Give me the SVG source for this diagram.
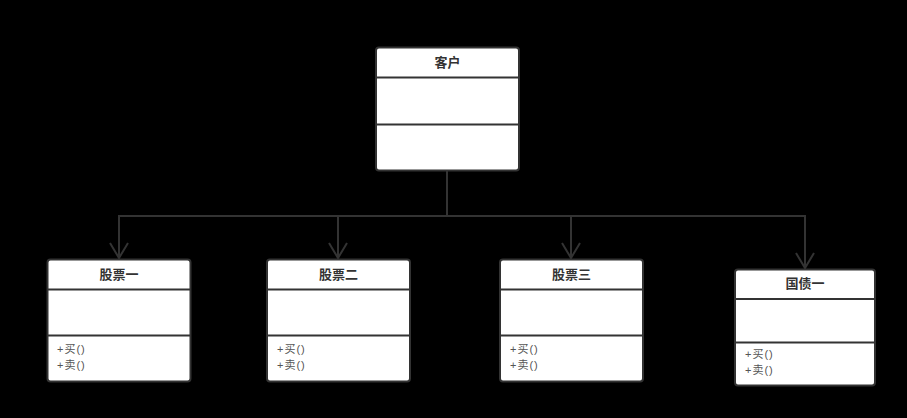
<svg xmlns="http://www.w3.org/2000/svg" width="907" height="418" viewBox="0 0 907 418">
<style>
.box{fill:#fff;stroke:#333;stroke-width:2}
.div{stroke:#333;stroke-width:2}
.title{font-family:"Liberation Sans","Noto Sans CJK SC",sans-serif;font-size:13px;font-weight:bold;fill:#333;text-anchor:middle}
.m{font-family:"Liberation Sans","Noto Sans CJK SC",sans-serif;font-size:11px;fill:#555;letter-spacing:1px}
.edge{fill:none;stroke:#333;stroke-width:2}
</style>
<defs>
<marker id="open" viewBox="0 0 20 20" refX="17" refY="10" markerWidth="20" markerHeight="20" markerUnits="userSpaceOnUse" orient="auto">
<path d="M2,1 L17,10 L2,19" fill="none" stroke="#333" stroke-width="2"/>
</marker>
</defs>
<rect width="907" height="418" fill="#000"/>
<g id="connectors">
<path class="edge" d="M447,171 V216 H119 V258" marker-end="url(#open)"/>
<path class="edge" d="M338,216 V258" marker-end="url(#open)"/>
<path class="edge" d="M447,216 H571 V258" marker-end="url(#open)"/>
<path class="edge" d="M571,216 H805 V268" marker-end="url(#open)"/>
</g>
<g id="client">
<rect class="box" x="376" y="47.5" width="143" height="123" rx="3"/>
<line class="div" x1="376" y1="77.5" x2="519" y2="77.5"/>
<line class="div" x1="376" y1="124.5" x2="519" y2="124.5"/>
<text class="title" x="447.5" y="67">客户</text>
</g>
<g id="stock1">
<rect class="box" x="47.5" y="259.5" width="143" height="122" rx="3"/>
<line class="div" x1="47.5" y1="289.5" x2="190.5" y2="289.5"/>
<line class="div" x1="47.5" y1="335.5" x2="190.5" y2="335.5"/>
<text class="title" x="119" y="279">股票一</text>
<text class="m" x="57" y="353">+买()</text>
<text class="m" x="57" y="369">+卖()</text>
</g>
<g id="stock2">
<rect class="box" x="267" y="259.5" width="143" height="122" rx="3"/>
<line class="div" x1="267" y1="289.5" x2="410" y2="289.5"/>
<line class="div" x1="267" y1="335.5" x2="410" y2="335.5"/>
<text class="title" x="338.5" y="279">股票二</text>
<text class="m" x="277" y="353">+买()</text>
<text class="m" x="277" y="369">+卖()</text>
</g>
<g id="stock3">
<rect class="box" x="500" y="259.5" width="143" height="122" rx="3"/>
<line class="div" x1="500" y1="289.5" x2="643" y2="289.5"/>
<line class="div" x1="500" y1="335.5" x2="643" y2="335.5"/>
<text class="title" x="571.5" y="279">股票三</text>
<text class="m" x="510" y="353">+买()</text>
<text class="m" x="510" y="369">+卖()</text>
</g>
<g id="bond1">
<rect class="box" x="735" y="269.5" width="140" height="116" rx="3"/>
<line class="div" x1="735" y1="299" x2="875" y2="299"/>
<line class="div" x1="735" y1="342.5" x2="875" y2="342.5"/>
<text class="title" x="805" y="288">国债一</text>
<text class="m" x="745" y="358">+买()</text>
<text class="m" x="745" y="374">+卖()</text>
</g>
</svg>
